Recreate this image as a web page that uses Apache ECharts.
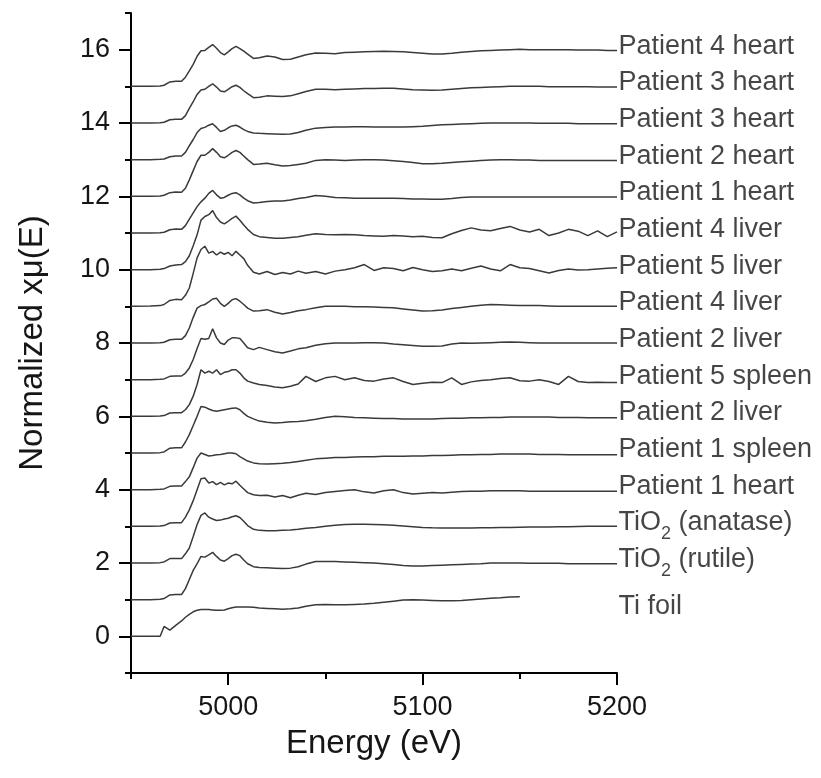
<!DOCTYPE html>
<html><head><meta charset="utf-8">
<script src="https://cdn.jsdelivr.net/npm/echarts@6/dist/echarts.min.js"></script>
<style>html,body{margin:0;padding:0;background:#fff}#c{width:821px;height:778px}</style>
</head><body><div id="c"></div>
<script>
// Energy grid (eV)
const energy = [4950,4960,4965,4967,4970,4973,4976,4978,4980,4982,
  4984,4986,4988,4990,4992,4994,4996,4998,5000,5002,
  5004,5006,5008,5010,5013,5016,5020,5024,5028,5032,
  5036,5040,5045,5050,5055,5060,5065,5070,5075,5080,
  5085,5090,5095,5100,5105,5110,5115,5120,5125,5130,
  5135,5140,5145,5150,5155,5160,5165,5170,5175,5180,
  5185,5190,5195,5200];

// normalized x-mu(E) of each spectrum (before vertical stacking offset)
const tiFoil = [0,0,0,0.27,0.17,0.3,0.42,0.52,0.6,0.67,
  0.71,0.73,0.73,0.73,0.72,0.71,0.71,0.72,0.75,0.78,
  0.8,0.8,0.8,0.8,0.79,0.77,0.76,0.75,0.74,0.75,
  0.77,0.82,0.86,0.87,0.86,0.86,0.87,0.88,0.9,0.93,
  0.96,0.99,1.0,0.99,0.98,0.97,0.97,0.98,1.0,1.02,
  1.04,1.05,1.07,1.08];
const tio2Rutile = [0,0,0.01,0.03,0.13,0.14,0.14,0.3,0.55,0.8,
  0.98,1.18,1.16,1.22,1.29,1.18,1.08,1.05,1.12,1.2,
  1.24,1.2,1.08,0.98,0.9,0.88,0.87,0.86,0.85,0.86,
  0.9,0.97,1.04,1.04,1.04,1.03,1.02,1.01,1.0,0.98,
  0.96,0.93,0.92,0.92,0.93,0.94,0.95,0.96,0.97,0.98,
  1.0,1.0,1.0,1.0,0.99,0.99,0.99,0.99,0.98,0.98,
  0.98,0.98,0.98,0.98];
const tio2Anatase = [0,0,0.01,0.03,0.12,0.12,0.12,0.25,0.41,0.72,
  1.05,1.3,1.365,1.25,1.2,1.16,1.17,1.2,1.22,1.26,
  1.29,1.24,1.14,1.02,0.92,0.89,0.88,0.88,0.89,0.9,
  0.92,0.95,0.97,1.0,1.03,1.05,1.06,1.06,1.05,1.04,
  1.03,1.01,0.99,0.97,0.96,0.956,0.955,0.955,0.956,0.96,
  0.96,0.965,0.97,0.975,0.98,0.98,0.985,0.99,0.99,0.995,
  1.0,1.0,1.0,1.0];
const p1Heart = [0,0,0.01,0.02,0.09,0.1,0.1,0.25,0.45,0.7,
  1.0,1.3,1.32,1.18,1.22,1.14,1.2,1.13,1.18,1.16,
  1.23,1.12,1.02,0.92,0.86,0.84,0.85,0.8,0.84,0.78,
  0.85,0.9,0.87,0.92,0.95,0.98,1.0,0.94,0.91,0.97,
  1.0,0.92,0.88,0.9,0.92,0.91,0.93,0.95,0.96,0.96,
  0.97,0.97,0.97,0.97,0.96,0.96,0.96,0.96,0.96,0.96,
  0.96,0.96,0.96,0.96];
const p1Spleen = [0,0,0.01,0.02,0.09,0.1,0.1,0.22,0.35,0.6,
  0.86,1.0,0.96,0.92,0.93,0.95,0.96,0.98,1.0,1.0,
  0.98,0.9,0.84,0.78,0.73,0.71,0.7,0.71,0.72,0.74,
  0.77,0.8,0.84,0.86,0.88,0.88,0.89,0.9,0.9,0.91,
  0.91,0.91,0.92,0.92,0.93,0.93,0.94,0.95,0.95,0.96,
  0.96,0.97,0.97,0.97,0.97,0.96,0.96,0.96,0.95,0.95,
  0.95,0.95,0.95,0.95];
const p2LiverA = [0,0,0.01,0.03,0.13,0.14,0.14,0.3,0.5,0.75,
  1.0,1.27,1.25,1.2,1.16,1.14,1.16,1.18,1.2,1.22,
  1.23,1.18,1.08,1.0,0.93,0.87,0.84,0.82,0.83,0.85,
  0.86,0.88,0.92,0.97,1.0,0.99,0.97,0.96,0.95,0.94,
  0.94,0.93,0.93,0.93,0.93,0.94,0.95,0.95,0.96,0.96,
  0.97,0.97,0.98,0.98,0.98,0.98,0.98,0.97,0.97,0.97,
  0.96,0.96,0.96,0.96];
const p5Spleen = [0,0,0.01,0.02,0.09,0.1,0.1,0.18,0.32,0.55,
  0.87,1.27,1.18,1.23,1.18,1.27,1.14,1.2,1.22,1.27,
  1.27,1.18,1.05,0.96,0.91,0.87,0.84,0.8,0.78,0.82,
  0.88,1.09,0.95,1.05,1.09,1.0,1.05,0.98,0.96,1.02,
  1.05,0.95,0.87,0.9,0.93,0.92,1.05,0.87,0.94,0.98,
  1.0,1.03,1.05,0.97,0.96,1.0,0.95,0.87,1.09,0.95,
  0.92,0.93,0.92,0.92];
const p2LiverB = [0,0,0.01,0.02,0.09,0.1,0.1,0.18,0.32,0.55,
  0.85,1.12,1.1,1.12,1.39,1.14,1.0,0.96,1.08,1.14,
  1.14,1.12,1.0,0.87,0.82,0.88,0.82,0.76,0.73,0.78,
  0.84,0.87,0.94,0.98,1.0,1.0,1.0,1.01,1.01,1.0,
  0.97,0.95,0.93,0.91,0.91,0.92,0.97,1.0,0.99,1.0,
  1.01,1.02,1.03,1.02,1.01,1.0,1.0,1.0,1.0,1.0,
  1.0,1.0,1.0,1.0];
const p4LiverA = [0,0,0.01,0.02,0.09,0.1,0.1,0.2,0.41,0.7,
  0.95,1.02,1.05,1.12,1.2,1.22,1.08,1.0,1.08,1.18,
  1.21,1.14,1.05,0.95,0.87,0.88,0.91,0.84,0.79,0.83,
  0.88,0.91,0.96,1.0,1.0,1.0,0.99,0.99,0.98,0.97,
  0.96,0.93,0.9,0.87,0.88,0.9,0.94,0.97,1.0,1.03,
  1.05,1.04,1.03,1.02,1.02,1.02,1.01,1.0,1.0,1.0,
  1.0,1.0,1.0,1.0];
const p5Liver = [0,0.01,0.02,0.05,0.16,0.19,0.18,0.3,0.5,0.9,
  1.32,1.55,1.64,1.45,1.5,1.4,1.48,1.42,1.47,1.38,
  1.5,1.4,1.3,1.12,0.93,0.88,0.95,0.87,0.92,0.88,
  0.96,0.9,0.95,0.88,0.96,1.0,1.05,1.14,0.98,1.05,
  1.03,0.97,1.06,1.0,0.95,0.97,1.02,0.97,1.04,1.1,
  1.02,0.97,1.14,1.05,1.03,0.97,0.91,0.98,1.02,0.99,
  1.0,1.02,1.04,1.05];
const p4LiverB = [0,0,0.01,0.03,0.1,0.13,0.14,0.22,0.38,0.65,
  0.95,1.35,1.45,1.5,1.61,1.42,1.3,1.25,1.32,1.4,
  1.46,1.35,1.22,1.1,0.96,0.9,0.88,0.86,0.86,0.88,
  0.9,0.94,0.98,0.96,0.95,0.96,0.95,0.93,0.92,0.91,
  0.93,0.92,0.9,0.91,0.88,0.87,0.98,1.07,1.14,1.08,
  1.06,1.12,1.18,1.08,1.03,1.1,0.93,1.0,1.1,1.05,
  0.93,1.06,0.9,1.03];
const p1HeartB = [0,0,0.01,0.02,0.09,0.11,0.1,0.2,0.38,0.55,
  0.72,0.85,0.95,1.08,1.16,1.04,0.95,0.97,1.03,1.08,
  1.1,1.04,0.95,0.88,0.82,0.83,0.86,0.87,0.87,0.9,
  0.94,0.97,1.02,1.0,0.97,0.96,0.95,0.95,0.95,0.95,
  0.95,0.94,0.93,0.93,0.92,0.92,0.94,0.97,0.98,0.98,
  0.98,0.98,0.98,0.98,0.98,0.98,0.98,0.98,0.98,0.98,
  0.98,0.98,0.98,0.98];
const p2Heart = [0,0,0.01,0.03,0.1,0.12,0.11,0.22,0.45,0.7,
  0.95,1.12,1.12,1.2,1.3,1.2,1.08,1.05,1.12,1.2,
  1.25,1.2,1.1,1.0,0.87,0.88,0.9,0.86,0.83,0.84,
  0.87,0.9,0.98,1.0,0.99,0.98,0.99,1.0,1.0,0.99,
  0.97,0.95,0.92,0.89,0.89,0.9,0.92,0.94,0.96,0.98,
  0.99,1.0,1.0,0.99,0.99,0.98,0.98,0.98,0.98,0.98,
  0.98,0.98,0.98,0.98];
const p3HeartA = [0,0,0.01,0.02,0.08,0.1,0.1,0.2,0.38,0.55,
  0.74,0.85,0.88,0.94,0.98,0.88,0.77,0.8,0.87,0.92,
  0.94,0.89,0.82,0.77,0.73,0.72,0.71,0.7,0.69,0.7,
  0.74,0.8,0.86,0.88,0.89,0.89,0.9,0.9,0.89,0.89,
  0.89,0.89,0.9,0.91,0.93,0.95,0.96,0.97,0.98,0.99,
  1.0,1.0,1.0,1.0,1.0,0.99,0.99,0.99,0.99,0.98,
  0.98,0.98,0.98,0.98];
const p3HeartB = [0,0,0.01,0.02,0.09,0.1,0.1,0.2,0.4,0.58,
  0.78,0.9,0.92,1.0,1.07,0.98,0.87,0.85,0.92,0.99,
  1.03,0.97,0.88,0.8,0.69,0.7,0.74,0.73,0.72,0.74,
  0.8,0.86,0.92,0.92,0.91,0.92,0.93,0.94,0.94,0.95,
  0.95,0.93,0.91,0.9,0.89,0.9,0.92,0.94,0.96,0.97,
  0.98,0.99,1.0,1.0,1.0,1.0,0.99,0.99,0.99,0.99,
  0.99,0.98,0.98,0.98];
const p4Heart = [0,0,0.01,0.03,0.12,0.14,0.14,0.25,0.42,0.6,
  0.82,0.97,0.98,1.06,1.14,1.04,0.92,0.86,0.94,1.03,
  1.09,1.03,0.96,0.88,0.76,0.78,0.83,0.8,0.73,0.74,
  0.8,0.86,0.91,0.9,0.89,0.92,0.93,0.94,0.95,0.96,
  0.95,0.94,0.92,0.9,0.88,0.88,0.9,0.93,0.95,0.97,
  0.98,0.99,1.0,1.01,1.0,1.0,1.0,1.0,1.0,0.99,
  0.99,0.99,0.98,0.98];

const seriesNames = ['Ti foil','TiO2 (rutile)','TiO2 (anatase)','Patient 1 heart','Patient 1 spleen',
  'Patient 2 liver','Patient 5 spleen','Patient 2 liver','Patient 4 liver','Patient 5 liver',
  'Patient 4 liver','Patient 1 heart','Patient 2 heart','Patient 3 heart','Patient 3 heart','Patient 4 heart'];
const seriesValues = [tiFoil,tio2Rutile,tio2Anatase,p1Heart,p1Spleen,p2LiverA,p5Spleen,p2LiverB,
  p4LiverA,p5Liver,p4LiverB,p1HeartB,p2Heart,p3HeartA,p3HeartB,p4Heart];
const offsets = [0,1,2,3,4,5,6,7,8,9,10,11,12,13,14,15];
const labelAnchorY = [0.72,2,3,4,5,6,7,8,9,10,11,12,13,14,15,16];

const xMajorTicks = [5000,5100,5200];
const xMinorTicks = [4950,5050,5150];
const yMajorTicks = [0,2,4,6,8,10,12,14,16];
const yMinorTicks = [-1,1,3,5,7,9,11,13,15,17];

const FONT = '"Liberation Sans", Arial, Helvetica, sans-serif';
const TXT = '#161616';
const xEnd = energy[energy.length - 1];

function richName(name) {
  if (name.indexOf('TiO2') === 0) return '{n|TiO}{s|2}{n|' + name.slice(4) + '}';
  return '{n|' + name + '}';
}

const lineSeries = seriesValues.map((vals, i) => ({
  type: 'line', name: 's' + i, xAxisIndex: 0, yAxisIndex: 0,
  data: vals.map((v, k) => [energy[k], v + offsets[i]]),
  showSymbol: false, symbol: 'none', silent: true, animation: false,
  lineStyle: { color: '#3a3a3a', width: 1.5 }, z: 2
}));

const labelSeries = {
  type: 'scatter', xAxisIndex: 0, yAxisIndex: 0, silent: true, animation: false,
  symbol: 'circle', symbolSize: 1, itemStyle: { color: 'transparent' },
  data: labelAnchorY.map((y) => [xEnd, y]),
  label: {
    show: true, position: 'right', distance: 1,
    formatter: (p) => richName(seriesNames[p.dataIndex]),
    rich: {
      n: { fontFamily: FONT, fontSize: 27, color: TXT, lineHeight: 34, verticalAlign: 'top' },
      s: { fontFamily: FONT, fontSize: 18, color: TXT, lineHeight: 18, verticalAlign: 'bottom' }
    }
  }
};

const axisLineStyle = { color: '#000', width: 2 };
const plainNum = (v) => String(v);
const option = {
  backgroundColor: '#fff',
  animation: false,
  grid: { left: 131, right: 204, top: 13, bottom: 105, containLabel: false, outerBoundsMode: 'none' },
  xAxis: [{
    type: 'value', min: 4950, max: 5200, interval: 50, position: 'bottom',
    name: 'Energy (eV)', nameLocation: 'middle', nameGap: 54,
    nameTextStyle: { fontFamily: FONT, fontSize: 33, color: TXT },
    axisLine: { show: true, onZero: false, lineStyle: axisLineStyle },
    axisTick: { show: true, inside: false, length: 12, lineStyle: axisLineStyle, customValues: xMajorTicks },
    axisLabel: { show: true, customValues: xMajorTicks, formatter: plainNum, margin: 21, fontFamily: FONT, fontSize: 27, color: TXT },
    splitLine: { show: false }
  }, {
    type: 'value', min: 4950, max: 5200, interval: 50, position: 'bottom', offset: 0,
    axisLine: { show: false, onZero: false },
    axisTick: { show: true, inside: false, length: 6, lineStyle: axisLineStyle, customValues: xMinorTicks },
    axisLabel: { show: false }, splitLine: { show: false }
  }],
  yAxis: [{
    type: 'value', min: -1, max: 17, interval: 1, position: 'left',
    name: 'Normalized x\u03bc(E)', nameLocation: 'middle', nameGap: 82,
    nameTextStyle: { fontFamily: FONT, fontSize: 33, color: TXT },
    axisLine: { show: true, onZero: false, lineStyle: axisLineStyle },
    axisTick: { show: true, inside: false, length: 12, lineStyle: axisLineStyle, customValues: yMajorTicks },
    axisLabel: { show: true, customValues: yMajorTicks, formatter: plainNum, margin: 21, fontFamily: FONT, fontSize: 27, color: TXT },
    splitLine: { show: false }
  }, {
    type: 'value', min: -1, max: 17, interval: 1, position: 'left', offset: 0,
    axisLine: { show: false, onZero: false },
    axisTick: { show: true, inside: false, length: 6, lineStyle: axisLineStyle, customValues: yMinorTicks },
    axisLabel: { show: false }, splitLine: { show: false }
  }],
  series: lineSeries.concat([labelSeries])
};

const chart = echarts.init(document.getElementById('c'), null, { renderer: 'canvas' });
chart.setOption(option);
</script>
</body></html>
